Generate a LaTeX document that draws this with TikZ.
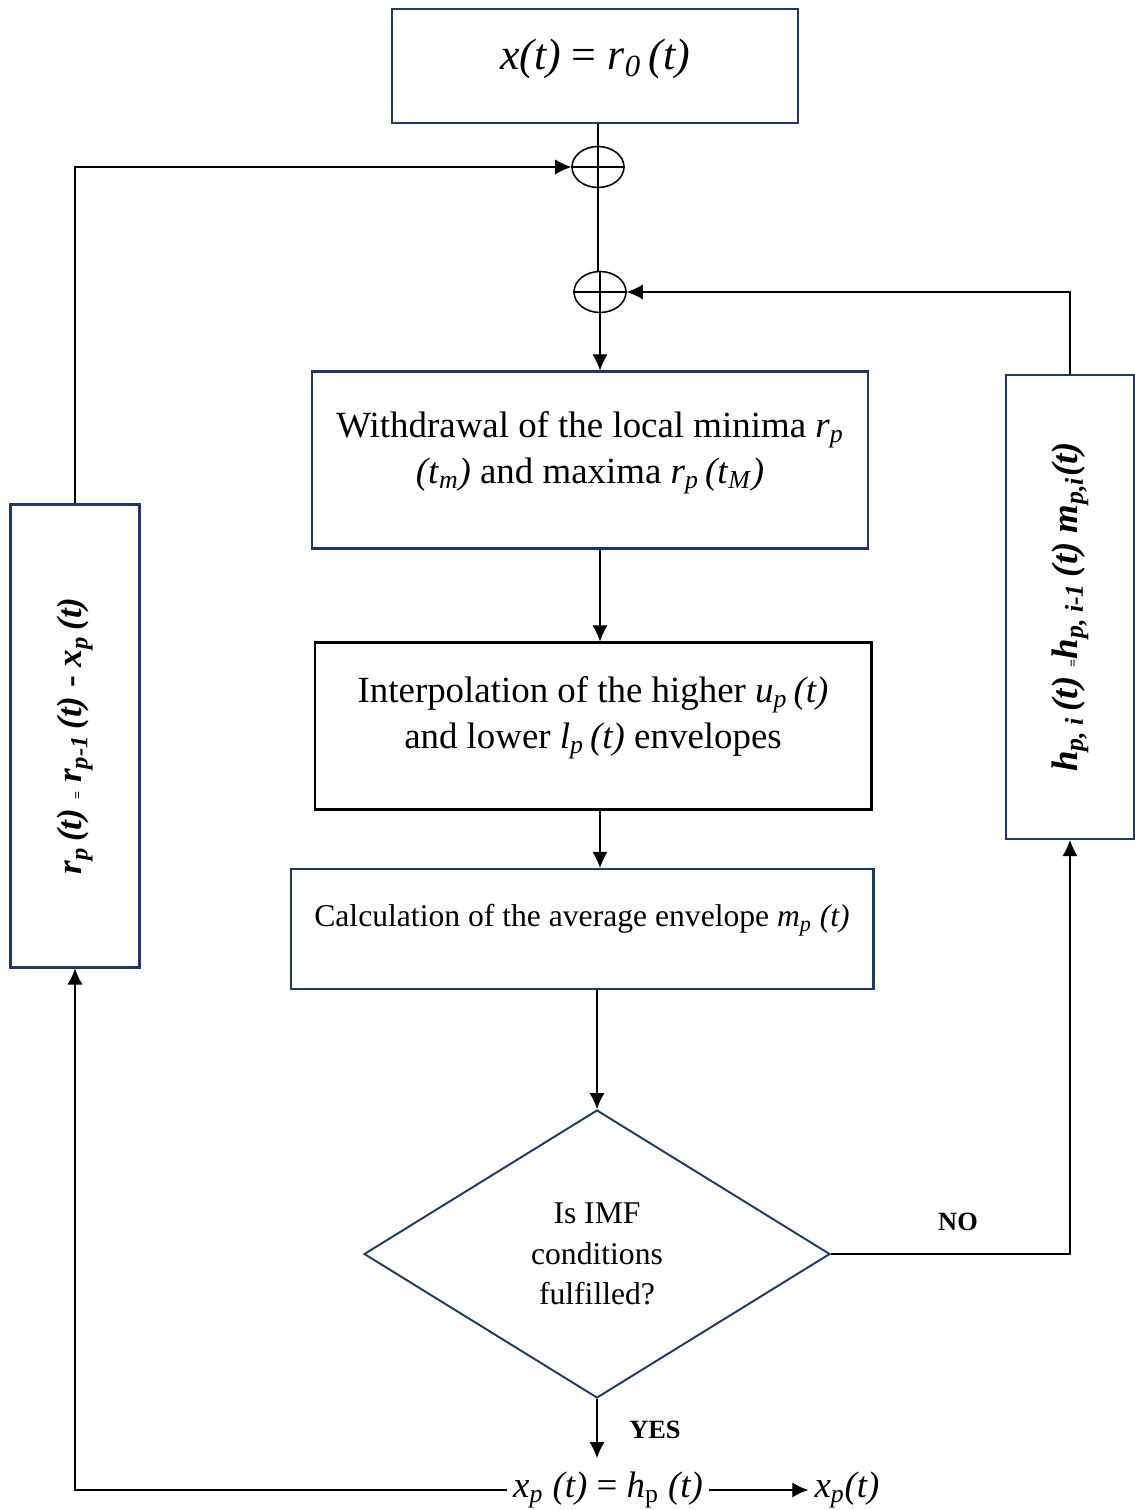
\documentclass[tikz,border=0pt]{standalone}
\usepackage{fontspec}
\setmainfont{Liberation Serif}
\usetikzlibrary{shapes.geometric,arrows.meta}
\definecolor{navy}{HTML}{203864}
\newcommand{\isub}[2]{\textit{#1}\textsubscript{\textit{#2}}}

\tikzset{
 blk/.style={draw=navy,line width=1.2pt,align=center},
 sumnode/.style={draw,ellipse,line width=0.9pt,minimum width=1.04cm,minimum height=0.82cm,inner sep=0pt},
 conn/.style={line width=0.6pt},
 arr/.style={line width=0.6pt,-{Latex[length=3.2mm,width=3mm]}},
 lbl/.style={font=\fontsize{15}{17}\selectfont\bfseries},
}

\begin{document}
\begin{tikzpicture}[x=0.02cm,y=-0.02cm]
\useasboundingbox (0,0) rectangle (1135,1510);
% blocks
\node[blk,minimum width=8.12cm,minimum height=2.28cm,text depth=0.47cm,font=\fontsize{25}{30}\selectfont] (top) at (595,66) {\textit{x(t)} = \isub{r}{0}\,\textit{(t)}};
\node[sumnode] (s1) at (598,167) {};
\node[sumnode] (s2) at (600,292) {};
\node[blk,minimum width=11.12cm,minimum height=3.54cm,text depth=0.51cm,font=\fontsize{21}{26}\selectfont] (b1) at (590,460) {Withdrawal of the local minima \isub{r}{p}\\ \textit{(t}\textsubscript{\textit{m}}\textit{)} and maxima \isub{r}{p}\,\textit{(t}\textsubscript{\textit{M}}\textit{)}};
\node[blk,draw=black,minimum width=11.14cm,minimum height=3.34cm,text depth=0.55cm,font=\fontsize{21}{26}\selectfont] (b2) at (593,726) {Interpolation of the higher \isub{u}{p}\,\textit{(t)}\\ and lower \isub{l}{p}\,\textit{(t)} envelopes};
\node[blk,minimum width=11.66cm,minimum height=2.4cm,text depth=0.53cm,font=\fontsize{18}{21}\selectfont] (b3) at (582,929) {Calculation of the average envelope \isub{m}{p}\ \textit{(t)}};
\node[draw=navy,diamond,line width=1.1pt,inner sep=0pt,minimum width=9.32cm,minimum height=5.76cm,align=center,font=\fontsize{18}{23}\selectfont] (dia) at (597,1254) {Is IMF\\ conditions\\ fulfilled?};
\node[blk,rotate=90,minimum width=9.28cm,minimum height=2.56cm,font=\fontsize{21}{24}\selectfont\bfseries] (right) at (1070,607) {\isub{h}{p, i}\,\textit{(t)} {\footnotesize =}\isub{h}{p, i-1}\,\textit{(t)} \isub{m}{p,i}\textit{(t)}};
\node[blk,rotate=90,minimum width=9.26cm,minimum height=2.58cm,font=\fontsize{20}{23}\selectfont\bfseries] (left) at (75,736) {\isub{r}{p}\,\textit{(t)} {\footnotesize =} \isub{r}{p-1}\,\textit{(t)} - \isub{x}{p}\,\textit{(t)}};
\node[font=\fontsize{21}{24}\selectfont] (eq) at (608,1490) {\isub{x}{p}\ \textit{(t)} = \textit{h}\textsubscript{p}\ \textit{(t)}};
\node[font=\fontsize{21}{24}\selectfont] (out) at (847,1490) {\isub{x}{p}\textit{(t)}};
\coordinate (yesend) at (597,1458);
% plus signs
\draw[line width=0.9pt] (s1.west) -- (s1.east) (s2.west) -- (s2.east);
% connectors
\draw[conn] (top.south -| s1) -- (s2.north -| s1);
\draw[conn] (s2.north) -- (s2.south);
\draw[arr] (s2.south) -- (b1.north -| s2);
\draw[arr] (b1.south -| s2) -- (b2.north -| s2);
\draw[arr] (b2.south -| s2) -- (b3.north -| s2);
\draw[arr] (b3.south -| dia) -- (dia.north);
\draw[arr] (dia.east) -- (right.west |- dia.east) -- (right.west);
\node[lbl] (no) at (958,1222) {NO};
\draw[arr] (right.east) |- (s2.east);
\draw[arr] (left.east) |- (s1.west);
\draw[arr] (dia.south) -- (yesend);
\node[lbl] (yes) at (655,1430) {YES};
\draw[arr] (eq.west) -| (left.west);
\draw[arr] (eq.east) -- (out.west);
\end{tikzpicture}
\end{document}
